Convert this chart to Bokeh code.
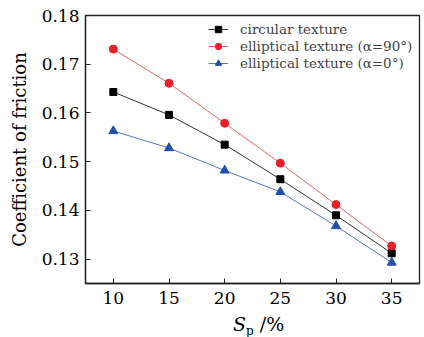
from bokeh.plotting import figure
from bokeh.models import FixedTicker, PrintfTickFormatter, Range1d, Legend, LegendItem, Div
from bokeh.layouts import column
from bokeh.embed import file_html
from bokeh.resources import INLINE

sp = [10, 15, 20, 25, 30, 35]
circular = [0.1643, 0.1596, 0.1535, 0.1464, 0.1390, 0.1312]
ellip90 = [0.1731, 0.1661, 0.1579, 0.1497, 0.1412, 0.1327]
ellip0 = [0.1563, 0.1528, 0.1482, 0.1438, 0.1368, 0.1293]
x_ticks = [10, 15, 20, 25, 30, 35]
y_ticks = [0.13, 0.14, 0.15, 0.16, 0.17, 0.18]
names = ["circular texture", "elliptical texture (\u03b1=90\u00b0)", "elliptical texture (\u03b1=0\u00b0)"]

FONT = "DejaVu Serif"

p = figure(width=424, height=310, output_backend="svg", toolbar_location=None,
           x_range=Range1d(7.5, 37.5), y_range=Range1d(0.125, 0.18),
           min_border_left=85, min_border_right=5, min_border_top=15, min_border_bottom=27)
p.background_fill_color = "white"
p.border_fill_color = "white"
p.grid.visible = False
p.outline_line_color = "#222222"
p.outline_line_width = 1.3

for ax in (p.xaxis[0], p.yaxis[0]):
    ax.axis_line_color = "#222222"
    ax.axis_line_width = 1.3
    ax.major_tick_in = 5
    ax.major_tick_out = 0
    ax.minor_tick_line_color = None
    ax.major_tick_line_color = "#222222"
    ax.major_label_text_font = FONT
    ax.major_label_text_font_size = "17px"
    ax.major_label_text_color = "black"

p.xaxis.ticker = FixedTicker(ticks=x_ticks)
p.yaxis.ticker = FixedTicker(ticks=y_ticks)
p.yaxis.formatter = PrintfTickFormatter(format="%.2f")
p.xaxis.major_label_standoff = 8
p.yaxis.major_label_standoff = 6

p.yaxis.axis_label = "Coefficient of friction"
p.yaxis.axis_label_text_font = FONT
p.yaxis.axis_label_text_font_size = "18px"
p.yaxis.axis_label_text_font_style = "normal"
p.yaxis.axis_label_text_color = "black"
p.yaxis.axis_label_standoff = 9

l1 = p.line(sp, circular, line_color="#333333", line_width=1)
s1 = p.scatter(sp, circular, marker="square", size=7, fill_color="black", line_color="black")
l2 = p.line(sp, ellip90, line_color="#e06666", line_width=1)
s2 = p.scatter(sp, ellip90, marker="circle", size=8, fill_color="#e8202a", line_color="#e8202a")
l3 = p.line(sp, ellip0, line_color="#5577c4", line_width=1)
s3 = p.scatter(sp, ellip0, marker="triangle", size=9, fill_color="#2050a8", line_color="#2050a8")

legend = Legend(items=[LegendItem(label=names[0], renderers=[l1, s1]),
                       LegendItem(label=names[1], renderers=[l2, s2]),
                       LegendItem(label=names[2], renderers=[l3, s3])],
                padding=0, margin=0, spacing=1,
                glyph_width=20, glyph_height=16, label_height=16, label_standoff=12,
                label_text_font=FONT, label_text_font_size="13.5px",
                background_fill_alpha=0, border_line_color=None)
legend.location = (123, 268 - 6 - 50)
p.add_layout(legend)

xlabel = Div(text='<span style="font-style:italic">S</span>'
                  '<span style="font-size:12px;position:relative;top:4px;">p</span>'
                  '<span> /%</span>',
             width=424, height=27,
             styles={"font-family": FONT, "font-size": "19px", "color": "black",
                     "padding-left": "228px", "line-height": "19px", "white-space": "nowrap"})

layout = column(p, xlabel, spacing=0)

open("out.html", "w").write(file_html(layout, INLINE))
